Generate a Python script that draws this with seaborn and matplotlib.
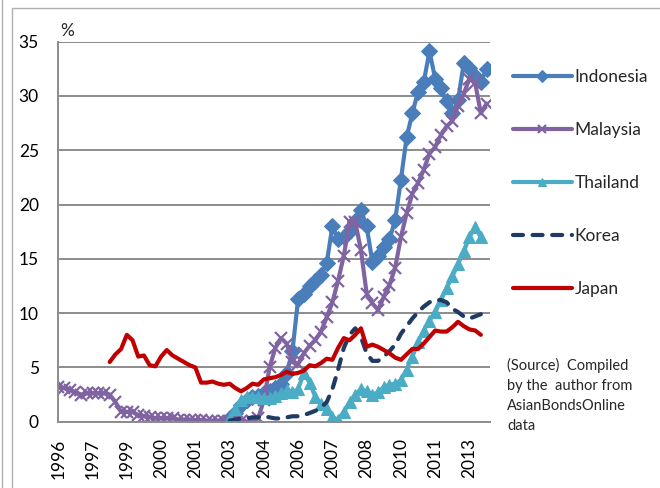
import numpy as np
import pandas as pd
import seaborn as sns
from matplotlib import pyplot as plt
from matplotlib.patches import Rectangle
from matplotlib.lines import Line2D

# category axis: one label every 6 categories
TICK_LABELS = ["1996", "1997", "1999", "2000", "2001", "2003", "2004",
               "2006", "2007", "2008", "2010", "2011", "2013"]
N_CATS = 76

malaysia = [3.2, 3.1, 2.9, 2.7, 2.5, 2.6, 2.6, 2.6, 2.6, 2.5,
            1.8, 0.9, 0.9, 0.9, 0.6, 0.5, 0.4, 0.3, 0.3, 0.3,
            0.3, 0.2, 0.2, 0.2, 0.15, 0.15, 0.1, 0.1, 0.1, 0.1,
            0.1, 0.1, 0.1, 0.0, 0.1, 0.3, 2.0, 5.0, 6.8, 7.7,
            7.2, 5.5, 5.3, 6.3, 7.0, 7.5, 8.3, 9.6, 11.0, 13.0,
            15.3, 18.4, 18.4, 15.8, 11.8, 10.9, 10.3, 11.5, 12.6, 14.2,
            17.0, 19.2, 21.0, 22.0, 23.2, 24.7, 25.3, 26.4, 27.2, 27.7,
            29.1, 30.2, 31.6, 31.2, 28.4, 29.3]

# series below start at category 30
indonesia = [0.3, 0.8, 1.5, 2.0, 2.3, 2.4, 2.6, 2.8, 3.1, 3.5,
             4.5, 6.5, 11.3, 11.8, 12.5, 13.0, 13.5, 14.6, 18.0, 16.8,
             17.0, 17.6, 18.5, 19.5, 18.0, 14.7, 15.3, 16.1, 16.8, 18.6,
             22.3, 26.2, 28.4, 30.4, 31.3, 34.1, 31.6, 30.7, 29.5, 28.4,
             29.6, 33.0, 32.6, 31.8, 31.3, 32.5]

thailand = [0.3, 1.2, 2.0, 2.3, 2.3, 2.3, 2.2, 2.2, 2.4, 2.6,
            2.9, 2.7, 3.0, 4.5, 3.6, 2.3, 1.6, 1.2, 0.4, 0.2,
            0.9, 1.8, 2.5, 3.0, 2.8, 2.5, 2.7, 3.2, 3.4, 3.5,
            3.8, 4.8, 6.0, 7.3, 8.4, 9.3, 10.1, 11.2, 12.3, 13.4,
            14.5, 15.7, 17.0, 17.9, 17.0]

korea = [0.1, 0.2, 0.3, 0.3, 0.4, 0.4, 0.5, 0.4, 0.3, 0.3,
         0.4, 0.5, 0.5, 0.6, 0.8, 1.0, 1.3, 1.8, 3.0, 4.8,
         6.8, 8.0, 8.6, 7.8, 6.3, 5.6, 5.6, 6.0, 6.5, 7.1,
         8.1, 8.8, 9.5, 10.1, 10.6, 11.0, 11.2, 11.2, 11.0, 10.4,
         10.1, 9.7, 9.5, 9.7, 9.9]

# starts at category 9
japan = [5.5, 6.2, 6.7, 8.0, 7.5, 6.0, 6.1, 5.2, 5.1, 6.0,
         6.6, 6.1, 5.8, 5.5, 5.2, 5.0, 3.6, 3.6, 3.7, 3.5,
         3.4, 3.5, 3.1, 2.8, 3.1, 3.5, 3.4, 3.9, 4.0, 4.1,
         4.3, 4.6, 4.4, 4.5, 4.7, 5.2, 5.1, 5.4, 5.8, 5.7,
         6.8, 7.7, 7.5, 8.0, 8.6, 6.9, 7.1, 6.9, 6.6, 6.3,
         5.9, 5.7, 6.2, 6.7, 6.7, 7.2, 7.8, 8.4, 8.3, 8.3,
         8.7, 9.2, 8.8, 8.5, 8.4, 8.0]


def series(values, start):
    return pd.DataFrame({"x": np.arange(start, start + len(values)), "y": values})


def main():
    sns.set_style("white")
    plt.rcParams["font.family"] = ["Lato", "DejaVu Sans"]

    fig = plt.figure(figsize=(6.6, 4.88), dpi=100)
    ax = fig.add_axes([58.3 / 660, 66.3 / 488, 431.7 / 660, 380 / 488])

    grid_c = "#8c8c8c"
    specs = [
        ("Indonesia", series(indonesia, 30), "#4a7ebb", dict(marker="D", markersize=8)),
        ("Malaysia", series(malaysia, 0), "#8064a2", dict(marker="x", markersize=8, mew=1.6)),
        ("Thailand", series(thailand, 30), "#4bacc6", dict(marker="^", markersize=9)),
        ("Korea", series(korea, 30), "#1f3b64", dict(linestyle=(0, (2.4, 2.3)),
                                                     dash_capstyle="round")),
        ("Japan", series(japan, 9), "#c00000", dict()),
    ]
    for name, df, color, kw in specs:
        sns.lineplot(data=df, x="x", y="y", color=color, lw=3, mec=color,
                     mfc=color, label=name, ax=ax, **kw)

    ax.set_xlim(0, 75.6)
    ax.set_ylim(0, 35)
    ax.set_yticks(range(0, 36, 5))
    ax.set_xticks(range(0, 73, 6))
    ax.set_xticklabels(TICK_LABELS, rotation=90)
    ax.set_xlabel("")
    ax.set_ylabel("")
    ax.grid(axis="y", color=grid_c, lw=1.4)
    ax.set_axisbelow(True)
    for side in ["top", "right"]:
        ax.spines[side].set_visible(False)
    for side in ["left", "bottom"]:
        ax.spines[side].set_color(grid_c)
        ax.spines[side].set_linewidth(1.4)
    ax.tick_params(axis="both", direction="out", color=grid_c, width=1.4,
                   labelsize=12.5, labelcolor="black")
    ax.tick_params(axis="y", length=6, pad=8)
    ax.tick_params(axis="x", length=5, pad=7)

    leg = ax.legend(loc="upper left", bbox_to_anchor=(506 / 660, 1 - 62 / 488),
                    bbox_transform=fig.transFigure, frameon=False, fontsize=12.5,
                    handlelength=3.4, handletextpad=0.15, labelspacing=2.13,
                    borderaxespad=0)
    for h in leg.legend_handles:
        h.set_markersize(6)

    fig.text(60 / 660, 1 - 31 / 488, "%", fontsize=12.5, va="center")
    fig.text(507 / 660, 1 - 358 / 488,
             "(Source)  Compiled\nby the  author from\nAsianBondsOnline\ndata",
             fontsize=10.5, va="top", linespacing=1.55)

    fig.patches.append(Rectangle((12 / 660, -0.1), 1.0, 1.1 - 8 / 488,
                                 transform=fig.transFigure, fill=False,
                                 ec="#b0b0b0", lw=1))
    fig.lines.append(Line2D([2 / 660, 2 / 660], [0, 1], transform=fig.transFigure,
                            color="#b0b0b0", lw=1))

    fig.savefig("out.png", dpi=100)


if __name__ == "__main__":
    main()
